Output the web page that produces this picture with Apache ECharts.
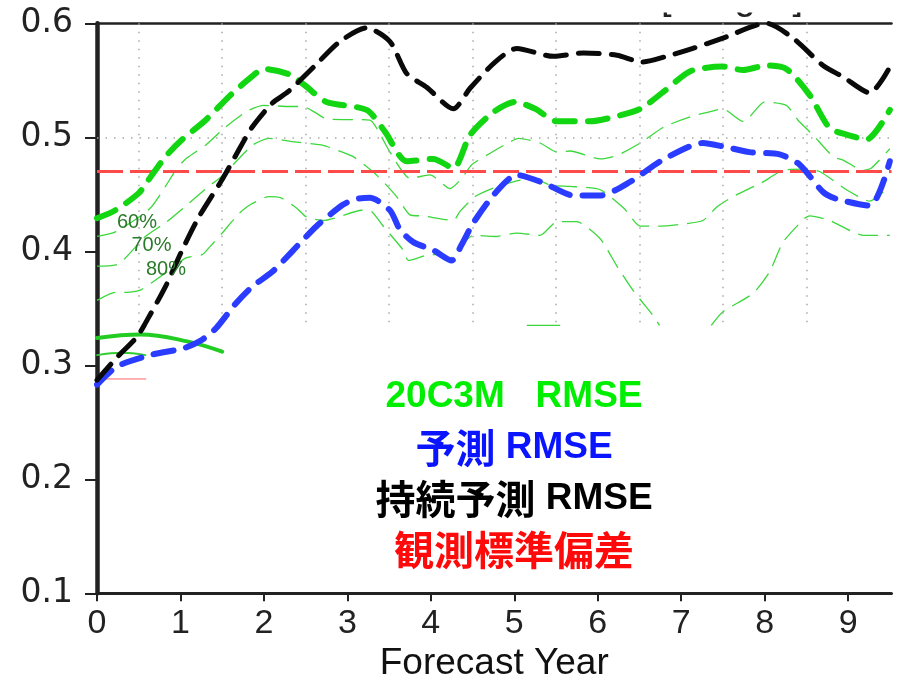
<!DOCTYPE html>
<html>
<head>
<meta charset="utf-8">
<script src="https://cdn.jsdelivr.net/npm/echarts@6/dist/echarts.min.js"></script>
<style>
  html, body { margin: 0; padding: 0; background: #fff; }
  #chart { width: 901px; height: 676px; }
</style>
</head>
<body>
<div id="chart"></div>
<script>
// Forecast-year axis ticks and the half-year dotted guides
const xTicks = [0, 1, 2, 3, 4, 5, 6, 7, 8, 9];
const halfYearGrid = [0.5, 1.5, 2.5, 3.5, 4.5, 5.5, 6.5, 7.5, 8.5];
const xMax = 9.52;

// Observed standard deviation (constant reference level)
const obsStd = 0.47;
const obsStdShort = [[0, 0.288], [0.59, 0.288]];

// 20C3M RMSE
const rmse20c3m = [[0,0.429],[0.22,0.436],[0.5,0.451],[0.62,0.463],[0.82,0.483],[1.02,0.498],[1.3,0.515],[1.6,0.537],[1.85,0.553],[2.0,0.560],[2.31,0.555],[2.5,0.545],[2.75,0.531],[3.23,0.524],[3.45,0.505],[3.71,0.479],[4.03,0.481],[4.27,0.473],[4.47,0.502],[4.75,0.522],[5.01,0.531],[5.25,0.525],[5.51,0.514],[5.91,0.514],[6.2,0.518],[6.51,0.525],[6.79,0.540],[7.11,0.558],[7.5,0.562],[7.74,0.559],[8.02,0.563],[8.26,0.560],[8.54,0.537],[8.78,0.508],[9.0,0.502],[9.22,0.498],[9.5,0.524]];

// Forecast RMSE
const rmseForecast = [[0,0.283],[0.24,0.299],[0.64,0.309],[1.04,0.315],[1.25,0.322],[1.42,0.332],[1.66,0.354],[1.86,0.369],[2.1,0.382],[2.34,0.400],[2.63,0.422],[2.95,0.441],[3.11,0.446],[3.27,0.447],[3.51,0.436],[3.63,0.419],[3.79,0.408],[4.03,0.401],[4.25,0.392],[4.37,0.406],[4.51,0.425],[4.77,0.451],[5.03,0.467],[5.35,0.460],[5.71,0.449],[6.03,0.449],[6.39,0.461],[6.75,0.479],[7.1,0.492],[7.26,0.495],[7.5,0.492],[7.82,0.487],[8.18,0.485],[8.42,0.476],[8.7,0.452],[8.86,0.446],[9.26,0.440],[9.5,0.479]];

// Persistence forecast RMSE
const rmsePersist = [[0,0.287],[0.24,0.307],[0.48,0.325],[0.58,0.337],[0.82,0.369],[1.02,0.401],[1.22,0.430],[1.5,0.463],[1.7,0.489],[1.86,0.509],[2.1,0.530],[2.29,0.540],[2.6,0.562],[2.91,0.584],[3.23,0.596],[3.51,0.584],[3.71,0.556],[3.95,0.544],[4.27,0.525],[4.47,0.543],[4.77,0.566],[5.03,0.578],[5.47,0.571],[5.83,0.574],[6.23,0.572],[6.53,0.566],[6.87,0.572],[7.14,0.578],[7.5,0.587],[8.02,0.600],[8.34,0.587],[8.7,0.563],[8.94,0.553],[9.26,0.539],[9.48,0.559]];

// 20C3M percentile curves (60 %, 70 %, 80 %)
const pct60 = [[0,0.413],[0.22,0.417],[0.64,0.438],[0.97,0.474],[1.08,0.482],[1.3,0.493],[1.54,0.509],[1.8,0.523],[2.0,0.528],[2.31,0.527],[2.47,0.527],[2.63,0.521],[2.75,0.516],[3.27,0.515],[3.39,0.503],[3.51,0.487],[3.75,0.464],[3.99,0.467],[4.23,0.455],[4.37,0.464],[4.49,0.476],[4.71,0.486],[4.95,0.496],[5.05,0.499],[5.31,0.495],[5.51,0.487],[5.67,0.488],[6.03,0.481],[6.23,0.484],[6.51,0.495],[6.79,0.509],[7.11,0.518],[7.43,0.524],[7.5,0.525],[7.74,0.514],[7.82,0.518],[8.0,0.531],[8.26,0.528],[8.4,0.515],[8.58,0.502],[8.82,0.483],[8.94,0.480],[9.18,0.471],[9.28,0.473],[9.5,0.490]];
const pct70 = [[0,0.387],[0.26,0.389],[0.58,0.413],[0.82,0.425],[1.1,0.442],[1.34,0.457],[1.5,0.466],[1.86,0.493],[2.06,0.499],[2.37,0.496],[2.71,0.493],[2.83,0.490],[3.07,0.483],[3.35,0.467],[3.59,0.448],[3.75,0.432],[3.91,0.431],[4.27,0.427],[4.35,0.435],[4.53,0.448],[4.77,0.456],[4.99,0.461],[5.23,0.464],[5.43,0.458],[5.67,0.457],[6.03,0.454],[6.31,0.438],[6.51,0.422],[6.71,0.422],[7.03,0.424],[7.26,0.427],[7.43,0.439],[7.62,0.448],[7.96,0.460],[8.22,0.471],[8.48,0.472],[8.66,0.470],[8.98,0.454],[9.26,0.444],[9.5,0.457]];
const pct80 = [[0,0.357],[0.22,0.364],[0.36,0.364],[0.52,0.366],[0.8,0.380],[1.06,0.394],[1.26,0.397],[1.34,0.403],[1.5,0.416],[1.7,0.433],[1.84,0.441],[2.06,0.448],[2.2,0.447],[2.39,0.438],[2.51,0.430],[2.71,0.427],[2.89,0.430],[3.17,0.436],[3.29,0.435],[3.43,0.422],[3.67,0.401],[3.73,0.392],[3.99,0.397],[4.07,0.397],[4.23,0.394],[4.35,0.404],[4.51,0.414],[4.77,0.413],[5.03,0.416],[5.31,0.414],[5.51,0.426],[5.75,0.426],[6.03,0.411],[6.23,0.387],[6.43,0.365],[6.67,0.343],[6.74,0.335],[7.0,null],[7.36,0.335],[7.5,0.347],[7.86,0.363],[8.06,0.382],[8.22,0.408],[8.48,0.429],[8.54,0.431],[8.78,0.427],[9.18,0.414],[9.5,0.414]];
const pctLow = [[5.15,0.335],[5.55,0.335]];

// Short solid 20C3M traces near the start
const solidWide = [[0,0.324],[0.52,0.327],[1.08,0.321],[1.5,0.312]];
const solidThin = [[0,0.309],[0.3,0.311],[0.58,0.309]];

// Percentile labels
const pctLabels = ['60%', '70%', '80%'];

// Legend lines written inside the plot
const legendLines = [
  { parts: [['l', '20C3M   RMSE']], color: '#00ee00' },
  { parts: [['c', '予測'], ['l', ' RMSE']], color: '#0a14ff' },
  { parts: [['c', '持続予測'], ['l', ' RMSE']], color: '#000000' },
  { parts: [['c', '観測標準偏差']], color: '#ff0a0a' }
];

const chart = echarts.init(document.getElementById('chart'), null, { renderer: 'canvas' });

function curve(name, data, color, width, dash, cap, z, smooth) {
  return {
    name, type: 'line', data, z,
    symbol: 'none', silent: true, animation: false,
    smooth: smooth || 0,
    connectNulls: false,
    lineStyle: { color, width, type: dash, cap: cap || 'butt', join: 'round' }
  };
}

const gridSegs = halfYearGrid.map(x => [{ coord: [x, 0.6] }, { coord: [x, 0.335] }]);
gridSegs.push([{ coord: [0, 0.5] }, { coord: [xMax, 0.5] }]);

const thinGreen = '#3ad83a';
const rich = {
  l: { fontFamily: 'Liberation Sans, Arial, sans-serif', fontWeight: 'bold', fontSize: 37, lineHeight: 50, verticalAlign: 'middle' },
  c: { fontFamily: 'Noto Sans CJK JP', fontWeight: 'bold', fontSize: 40, lineHeight: 50, verticalAlign: 'middle' }
};

const legendGraphics = legendLines.map((ln, i) => {
  const r = {};
  Object.keys(rich).forEach(k => { r[k] = Object.assign({}, rich[k], { color: ln.color }); });
  return {
    type: 'text', z: 100, silent: true,
    x: 514, y: 397 + i * 51,
    style: {
      text: ln.parts.map(p => '{' + p[0] + '|' + p[1] + '}').join(''),
      rich: r, fill: ln.color, align: 'center', verticalAlign: 'middle'
    }
  };
});

const pctGraphics = pctLabels.map((t, i) => ({
  type: 'text', z: 100, silent: true,
  x: 137 + i * 14.5, y: 222 + i * 23.7,
  style: { text: t, fill: '#2b7a2b', font: '20px "Liberation Sans", Arial, sans-serif', align: 'center', verticalAlign: 'middle' }
}));

// Heading row trimmed by the top edge: only descenders remain
const headFont = '38px "Liberation Sans", Arial';
const headGraphics = [
  { type: 'text', x: 661, y: 18, z: 50, silent: true, style: { text: '[', fill: '#222', font: headFont, verticalAlign: 'bottom' } },
  { type: 'text', x: 745, y: 18, z: 50, silent: true, style: { text: 'g', fill: '#222', font: headFont, align: 'center', verticalAlign: 'bottom' } },
  { type: 'text', x: 803, y: 18, z: 50, silent: true, style: { text: ']', fill: '#222', font: headFont, align: 'right', verticalAlign: 'bottom' } },
  { type: 'rect', z: 60, silent: true, shape: { x: 640, y: 0, width: 190, height: 12.5 }, style: { fill: '#fff' } }
];

const option = {
  animation: false,
  backgroundColor: '#fff',
  grid: { left: 97, right: 9.5, top: 23.3, bottom: 82.7, containLabel: false, outerBoundsMode: 'none' },
  xAxis: [{
    type: 'value', min: 0, max: xMax, interval: 1,
    name: 'Forecast Year', nameLocation: 'middle', nameGap: 46,
    nameTextStyle: { fontFamily: 'Liberation Sans, Arial, sans-serif', fontSize: 37, color: '#111' },
    axisLine: { show: true, lineStyle: { color: '#222', width: 3 } },
    axisTick: { show: true, inside: false, length: 8, lineStyle: { color: '#222', width: 2 }, customValues: xTicks },
    axisLabel: { show: true, margin: 13, color: '#222', fontSize: 34, fontFamily: 'Liberation Sans Narrow, Liberation Sans, sans-serif', customValues: xTicks, formatter: v => String(v) },
    splitLine: { show: false }
  }, {
    type: 'value', position: 'top', min: 0, max: xMax,
    axisLine: { show: true, lineStyle: { color: '#222', width: 2.5 } },
    axisTick: { show: false }, axisLabel: { show: false }, splitLine: { show: false }
  }],
  yAxis: [{
    type: 'value', min: 0.1, max: 0.6, interval: 0.1,
    axisLine: { show: true, lineStyle: { color: '#222', width: 3 } },
    axisTick: { show: true, inside: false, length: 12, lineStyle: { color: '#222', width: 2 } },
    axisLabel: { margin: 24, color: '#222', fontSize: 33, fontFamily: 'DejaVu Sans, sans-serif', formatter: v => v.toFixed(1) },
    splitLine: { show: false }
  }, {
    type: 'value', position: 'right', min: 0.1, max: 0.6,
    axisLine: { show: true, lineStyle: { color: '#222', width: 4.5 } },
    axisTick: { show: false }, axisLabel: { show: false }, splitLine: { show: false }
  }],
  series: [
    {
      name: 'grid', type: 'line', data: [], z: 1, silent: true,
      markLine: {
        silent: true, symbol: 'none', animation: false,
        label: { show: false },
        lineStyle: { color: '#a9a9a9', width: 1.5, type: [1.5, 7] },
        data: gridSegs
      }
    },
    curve('pct60', pct60, thinGreen, 1.3, [20, 9], 'butt', 3, 0.2),
    curve('pct70', pct70, thinGreen, 1.3, [20, 9], 'butt', 3, 0.2),
    curve('pct80', pct80, thinGreen, 1.3, [20, 9], 'butt', 3, 0.2),
    curve('pctLow', pctLow, thinGreen, 1.3, 'solid', 'butt', 3, 0),
    curve('solidWide', solidWide, '#22cc22', 4, 'solid', 'round', 4, 0.4),
    curve('solidThin', solidThin, '#33cc33', 1.8, 'solid', 'round', 4, 0.4),
    curve('obsStdShort', obsStdShort, '#ff6666', 1, 'solid', 'butt', 4, 0),
    curve('obsStd', [[0, obsStd], [xMax, obsStd]], '#ff4a4a', 3, [26, 7], 'butt', 5, 0),
    curve('rmse20c3m', rmse20c3m, '#12d612', 6, [20, 13], 'round', 6, 0.25),
    curve('rmseForecast', rmseForecast, '#2a3cff', 6, [20, 13], 'round', 7, 0.25),
    curve('rmsePersist', rmsePersist, '#0a0a0a', 5, [21, 12], 'round', 8, 0.25)
  ],
  graphic: [].concat(headGraphics, pctGraphics, legendGraphics)
};

chart.setOption(option);
</script>
</body>
</html>
